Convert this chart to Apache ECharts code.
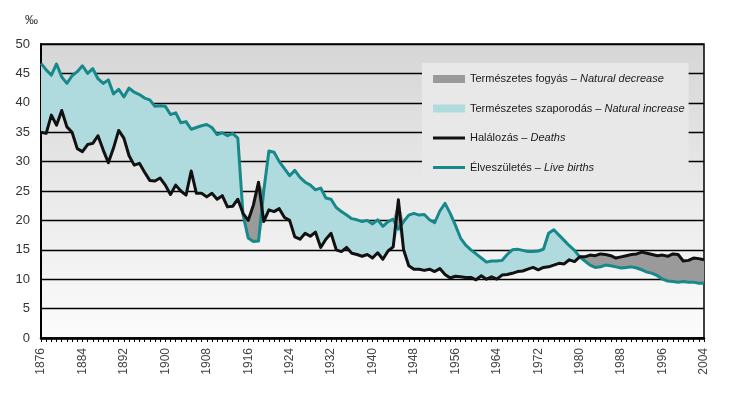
<!DOCTYPE html>
<html lang="hu">
<head>
<meta charset="UTF-8">
<title>Élveszületés és halálozás, 1876–2004</title>
<script src="https://cdn.jsdelivr.net/npm/echarts@6.0.0/dist/echarts.min.js"></script>
<style>
  html, body { margin: 0; padding: 0; background: #fff; }
  #chart { width: 732px; height: 396px; }
</style>
</head>
<body>
<div id="chart"></div>
<script>
// évek (kategóriák)
const years = [];
for (let y = 1876; y <= 2004; y++) years.push(String(y));

// Élveszületés, ezer lakosra (‰)
const births = [
  46.7, 45.6, 44.7, 46.6, 44.4, 43.3, 44.6, 45.3, 46.3, 45.0, 45.8, 44.1, 43.3, 43.9, // 1876-1889
  41.5, 42.3, 41.0, 42.5, 41.8, 41.4, 40.8, 40.5, 39.4, 39.5,                         // 1890-1899
  39.4, 38.0, 38.3, 36.6, 36.8, 35.5, 35.8, 36.1, 36.3, 35.8,                         // 1900-1909
  34.6, 34.9, 34.4, 34.8, 34.0, 21.0, 17.0, 16.4, 16.5, 25.0,                         // 1910-1919
  31.8, 31.6, 30.0, 28.8, 27.6, 28.5, 27.3, 26.5, 26.0, 25.2,                         // 1920-1929
  25.5, 23.8, 23.6, 22.2, 21.5, 20.9, 20.3, 20.1, 19.8, 20.0,                         // 1930-1939
  19.4, 20.1, 19.0, 19.8, 20.2, 18.5, 19.8, 20.9, 21.2, 20.9,                         // 1940-1949
  21.0, 20.1, 19.6, 21.6, 22.9, 21.2, 19.2, 17.0, 15.8, 15.0,                         // 1950-1959
  14.3, 13.6, 12.9, 13.1, 13.1, 13.2, 14.2, 15.0, 15.1, 14.9,                         // 1960-1969
  14.7, 14.7, 14.8, 15.1, 17.8, 18.4, 17.5, 16.6, 15.7, 14.9,                         // 1970-1979
  13.8, 13.1, 12.4, 12.0, 12.1, 12.4, 12.3, 12.1, 11.9, 12.0,                         // 1980-1989
  12.1, 11.9, 11.6, 11.2, 11.0, 10.6, 10.0, 9.7, 9.6, 9.5,                            // 1990-1999
  9.6, 9.5, 9.5, 9.3, 9.3                                                             // 2000-2004
];

// Halálozás, ezer lakosra (‰)
const deaths = [
  35.0, 34.8, 37.9, 36.2, 38.7, 35.9, 35.0, 32.2, 31.7, 32.9, 33.1, 34.4, 32.0, 29.8, // 1876-1889
  32.3, 35.3, 34.0, 31.0, 29.4, 29.7, 28.2, 26.8, 26.7, 27.2,                         // 1890-1899
  26.0, 24.4, 26.0, 25.0, 24.3, 28.4, 24.6, 24.6, 24.0, 24.6,                         // 1900-1909
  23.6, 24.2, 22.3, 22.4, 23.6, 21.2, 20.0, 22.6, 26.5, 19.8,                         // 1910-1919
  21.8, 21.5, 22.0, 20.5, 20.0, 17.2, 16.8, 17.8, 17.3, 18.0,                         // 1920-1929
  15.4, 16.8, 17.8, 15.0, 14.7, 15.4, 14.4, 14.2, 13.9, 14.2,                         // 1930-1939
  13.6, 14.5, 13.4, 14.8, 15.5, 23.5, 15.0, 12.3, 11.7, 11.7,                         // 1940-1949
  11.5, 11.7, 11.3, 11.8, 10.8, 10.2, 10.5, 10.4, 10.3, 10.3,                         // 1950-1959
  9.9, 10.6, 10.0, 10.4, 10.0, 10.7, 10.8, 11.0, 11.3, 11.4,                          // 1960-1969
  11.7, 12.0, 11.6, 12.0, 12.1, 12.4, 12.7, 12.6, 13.3, 13.0,                         // 1970-1979
  13.8, 13.8, 14.1, 14.0, 14.3, 14.2, 14.0, 13.6, 13.8, 14.0,                         // 1980-1989
  14.2, 14.3, 14.6, 14.4, 14.2, 14.0, 14.1, 13.9, 14.3, 14.2,                         // 1990-1999
  13.1, 13.2, 13.6, 13.5, 13.3                                                        // 2000-2004
];

const english = {
  'Természetes fogyás': 'Natural decrease',
  'Természetes szaporodás': 'Natural increase',
  'Halálozás': 'Deaths',
  'Élveszületés': 'Live births'
};

const TEAL = '#17898b';
const BLACK = '#111111';
const FILL_UP = '#b0dbde';
const FILL_DOWN = '#9a9a9a';
const SANS = "'Liberation Sans', Arial, sans-serif";

// a kitöltéshez: alap = kisebbik érték, erre rakódik a különbség
const base = births.map((b, i) => +Math.min(b, deaths[i]).toFixed(2));
const increase = births.map((b, i) => +Math.max(b - deaths[i], 0).toFixed(2));
const decrease = births.map((b, i) => +Math.max(deaths[i] - b, 0).toFixed(2));

const chart = echarts.init(document.getElementById('chart'));

chart.setOption({
  animation: false,
  title: {
    text: '‰',
    left: 20,
    top: 9,
    textStyle: { fontSize: 13, fontWeight: 'normal', color: '#333', fontFamily: SANS }
  },
  grid: {
    left: 41, right: 28, top: 44, bottom: 58,
    show: true,
    borderColor: '#000',
    borderWidth: 1.5,
    backgroundColor: {
      type: 'linear', x: 0, y: 0, x2: 0, y2: 1,
      colorStops: [
        { offset: 0, color: '#d6d6d6' },
        { offset: 1, color: '#fcfcfc' }
      ]
    }
  },
  legend: {
    orient: 'vertical',
    left: 422,
    top: 63,
    selectedMode: false,
    backgroundColor: '#e8e8e8',
    padding: [10.5, 4, 11.5, 11],
    itemWidth: 32,
    itemHeight: 8,
    itemGap: 18.5,
    data: [
      { name: 'Természetes fogyás', icon: 'rect', itemStyle: { color: FILL_DOWN, borderWidth: 0 } },
      { name: 'Természetes szaporodás', icon: 'rect', itemStyle: { color: FILL_UP, borderWidth: 0 } },
      { name: 'Halálozás', icon: 'path://M0 0H32V3H0Z', itemStyle: { color: BLACK, borderWidth: 0 } },
      { name: 'Élveszületés', icon: 'path://M0 0H32V3H0Z', itemStyle: { color: TEAL, borderWidth: 0 } }
    ],
    formatter: name => '{hu|' + name + ' – }{en|' + english[name] + '}',
    textStyle: {
      fontFamily: SANS,
      fontSize: 11,
      color: '#1a1a1a',
      rich: {
        hu: { fontFamily: SANS, fontSize: 11, color: '#1a1a1a' },
        en: { fontFamily: SANS, fontSize: 11, color: '#1a1a1a', fontStyle: 'italic' }
      }
    }
  },
  xAxis: {
    type: 'category',
    data: years,
    boundaryGap: false,
    axisLine: { lineStyle: { color: '#000', width: 2.5 } },
    axisTick: { interval: 0, length: 4, lineStyle: { color: '#000', width: 1 } },
    axisLabel: {
      interval: 7,
      rotate: 90,
      margin: 10,
      fontSize: 12,
      color: '#444',
      fontFamily: SANS
    },
    splitLine: { show: false }
  },
  yAxis: {
    type: 'value',
    min: 0,
    max: 50,
    interval: 5,
    axisLine: { show: true, lineStyle: { color: '#000', width: 2 } },
    axisTick: { show: false },
    axisLabel: { fontSize: 13, color: '#333', margin: 11, fontFamily: SANS },
    splitLine: { lineStyle: { color: '#000', width: 1.3 } }
  },
  series: [
    {
      name: 'alap',
      type: 'line',
      stack: 'kulonbseg',
      data: base,
      symbol: 'none',
      silent: true,
      lineStyle: { width: 0, opacity: 0 }
    },
    {
      name: 'Természetes szaporodás',
      type: 'line',
      stack: 'kulonbseg',
      data: increase,
      symbol: 'none',
      silent: true,
      color: FILL_UP,
      lineStyle: { width: 0, opacity: 0 },
      areaStyle: { color: FILL_UP, opacity: 1 }
    },
    {
      name: 'Természetes fogyás',
      type: 'line',
      stack: 'kulonbseg',
      data: decrease,
      symbol: 'none',
      silent: true,
      color: FILL_DOWN,
      lineStyle: { width: 0, opacity: 0 },
      areaStyle: { color: FILL_DOWN, opacity: 1 }
    },
    {
      name: 'Élveszületés',
      type: 'line',
      data: births,
      symbol: 'none',
      color: TEAL,
      lineStyle: { color: TEAL, width: 3, join: 'round' },
      z: 3
    },
    {
      name: 'Halálozás',
      type: 'line',
      data: deaths,
      symbol: 'none',
      color: BLACK,
      lineStyle: { color: BLACK, width: 3, join: 'round' },
      z: 4
    }
  ]
});
</script>
</body>
</html>
